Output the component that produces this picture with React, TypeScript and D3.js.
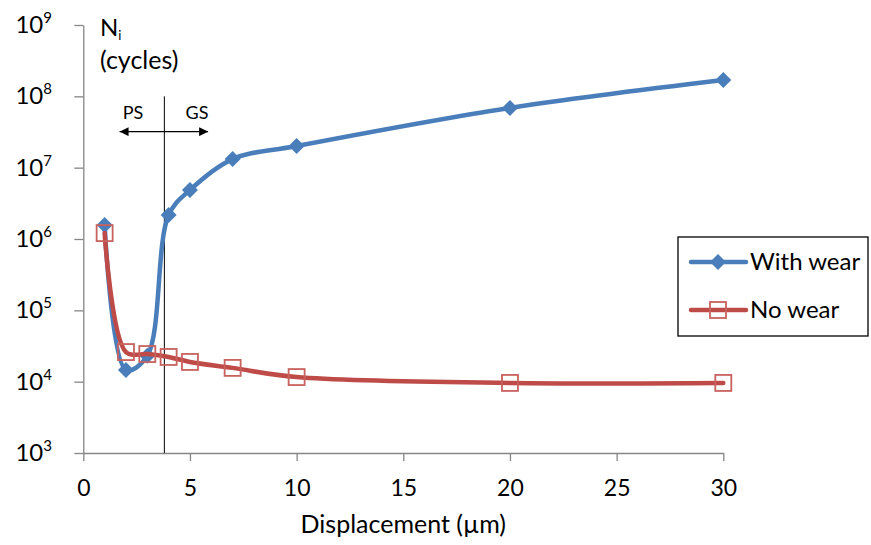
import React, { useRef, useEffect } from "react";
import * as d3 from "d3";

// displacement (µm) and cycles to crack initiation
const displacement = [1, 2, 3, 4, 5, 7, 10, 20, 30];
const withWear = [1.57e6, 1.46e4, 2.3e4, 2.17e6, 4.86e6, 1.32e7, 2.01e7, 6.87e7, 1.69e8];
const noWear = [1.21e6, 2.6e4, 2.44e4, 2.22e4, 1.89e4, 1.56e4, 1.16e4, 9.6e3, 9.6e3];
const xTicks = [0, 5, 10, 15, 20, 25, 30];
const yExponents = [3, 4, 5, 6, 7, 8, 9];
const seriesNames = ["With wear", "No wear"];

// PS / GS boundary annotation
const boundaryX = 3.8;
const boundaryTop = 1e8;
const arrowFrom = 1.7;
const arrowTo = 5.85;
const arrowLevel = 3.2e7;

const FONT = "Lato, Carlito, Calibri, 'Open Sans', sans-serif";
const BLUE = "#4a7ebb";
const RED = "#be4b48";
const AXIS = "#868686";

export default function App() {
  const ref = useRef<SVGSVGElement>(null);
  const width = 871;
  const height = 545;

  useEffect(() => {
    const svg = d3.select(ref.current);
    svg.selectAll("*").remove();

    const x = d3.scaleLinear().domain([0, 30]).range([83.3, 723.3]);
    const y = d3.scaleLog().domain([1e3, 1e9]).range([453, 25]);

    const defs = svg.append("defs");
    defs
      .append("marker")
      .attr("id", "arrowhead")
      .attr("viewBox", "0 0 10 10")
      .attr("refX", 10)
      .attr("refY", 5)
      .attr("markerWidth", 9)
      .attr("markerHeight", 9)
      .attr("markerUnits", "userSpaceOnUse")
      .attr("orient", "auto-start-reverse")
      .append("path")
      .attr("d", "M0,0L10,5L0,10Z")
      .attr("fill", "#000");

    // y axis
    const yAxis = svg
      .append("g")
      .attr("transform", "translate(" + x(0) + ",0)")
      .call(
        d3
          .axisLeft(y)
          .tickValues(yExponents.map(e => Math.pow(10, e)))
          .tickFormat(() => "")
          .tickSize(9)
          .tickSizeOuter(0)
      );
    yAxis.select(".domain").attr("stroke", AXIS).attr("stroke-width", 1.3);
    yAxis.selectAll(".tick line").attr("stroke", AXIS).attr("stroke-width", 1.3);

    const yLab = svg
      .append("g")
      .selectAll("text")
      .data(yExponents)
      .enter()
      .append("text")
      .attr("x", 52)
      .attr("y", e => y(Math.pow(10, e)) + 8)
      .attr("text-anchor", "end")
      .style("font-family", FONT)
      .style("font-size", "24px")
      .attr("fill", "#000");
    yLab.append("tspan").text("10");
    yLab
      .append("tspan")
      .attr("dy", -10)
      .style("font-size", "15px")
      .text(e => String(e));

    // x axis
    const xAxis = svg
      .append("g")
      .attr("transform", "translate(0," + y(1e3) + ")")
      .call(d3.axisBottom(x).tickValues(xTicks).tickSize(8).tickSizeOuter(0).tickPadding(19));
    xAxis.select(".domain").attr("stroke", AXIS).attr("stroke-width", 1.3);
    xAxis.selectAll(".tick line").attr("stroke", AXIS).attr("stroke-width", 1.3);
    xAxis
      .selectAll(".tick text")
      .style("font-family", FONT)
      .style("font-size", "23px")
      .attr("fill", "#000");

    svg
      .append("text")
      .attr("x", (x(0) + x(30)) / 2)
      .attr("y", 533)
      .attr("text-anchor", "middle")
      .style("font-family", FONT)
      .style("font-size", "25px")
      .text("Displacement (µm)");

    // y title
    const nTitle = svg
      .append("text")
      .attr("x", 100)
      .attr("y", 36)
      .style("font-family", FONT)
      .style("font-size", "24px");
    nTitle.append("tspan").text("N");
    nTitle.append("tspan").attr("dy", 4).style("font-size", "13px").text("i");
    svg
      .append("text")
      .attr("x", 100)
      .attr("y", 69)
      .style("font-family", FONT)
      .style("font-size", "25px")
      .text("(cycles)");

    // PS / GS annotation
    svg
      .append("line")
      .attr("x1", x(boundaryX))
      .attr("x2", x(boundaryX))
      .attr("y1", y(boundaryTop))
      .attr("y2", y(1e3))
      .attr("stroke", "#000")
      .attr("stroke-width", 1);
    svg
      .append("line")
      .attr("x1", x(arrowFrom))
      .attr("x2", x(arrowTo))
      .attr("y1", y(arrowLevel))
      .attr("y2", y(arrowLevel))
      .attr("stroke", "#000")
      .attr("stroke-width", 1.3)
      .attr("marker-start", "url(#arrowhead)")
      .attr("marker-end", "url(#arrowhead)");
    svg
      .append("text")
      .attr("x", 133)
      .attr("y", 119)
      .attr("text-anchor", "middle")
      .style("font-family", FONT)
      .style("font-size", "18px")
      .text("PS");
    svg
      .append("text")
      .attr("x", 197)
      .attr("y", 119)
      .attr("text-anchor", "middle")
      .style("font-family", FONT)
      .style("font-size", "18px")
      .text("GS");

    const line = d3
      .line<[number, number]>()
      .x(d => x(d[0]))
      .y(d => y(d[1]))
      .curve(d3.curveCatmullRom.alpha(0.5));

    const wearPts: [number, number][] = displacement.map((d, i) => [d, withWear[i]]);
    const noWearPts: [number, number][] = displacement.map((d, i) => [d, noWear[i]]);

    const diamond = "M0,-8L8,0L0,8L-8,0Z";

    // with wear
    svg
      .append("path")
      .attr("d", line(wearPts))
      .attr("fill", "none")
      .attr("stroke", BLUE)
      .attr("stroke-width", 4.5)
      .attr("stroke-linecap", "round");
    svg
      .append("g")
      .selectAll("path")
      .data(wearPts)
      .enter()
      .append("path")
      .attr("d", diamond)
      .attr("transform", d => "translate(" + x(d[0]) + "," + y(d[1]) + ")")
      .attr("fill", BLUE);

    // no wear
    svg
      .append("path")
      .attr("d", line(noWearPts))
      .attr("fill", "none")
      .attr("stroke", RED)
      .attr("stroke-width", 4.5)
      .attr("stroke-linecap", "round");
    svg
      .append("g")
      .selectAll("rect")
      .data(noWearPts)
      .enter()
      .append("rect")
      .attr("x", d => x(d[0]) - 8)
      .attr("y", d => y(d[1]) - 8)
      .attr("width", 16)
      .attr("height", 16)
      .attr("fill", "none")
      .attr("stroke", "#c8625f")
      .attr("stroke-width", 1.8);

    // legend
    const lg = svg.append("g").attr("transform", "translate(678,237)");
    lg.append("rect")
      .attr("width", 190)
      .attr("height", 99)
      .attr("fill", "#fff")
      .attr("stroke", "#000")
      .attr("stroke-width", 1.3);
    const rows = lg
      .selectAll("g.row")
      .data(seriesNames)
      .enter()
      .append("g")
      .attr("class", "row")
      .attr("transform", (d, i) => "translate(0," + (25 + i * 48) + ")");
    rows
      .append("line")
      .attr("x1", 13)
      .attr("x2", 68)
      .attr("stroke", (d, i) => (i === 0 ? BLUE : RED))
      .attr("stroke-width", 4.5)
      .attr("stroke-linecap", "round");
    rows
      .filter((d, i) => i === 0)
      .append("path")
      .attr("d", diamond)
      .attr("transform", "translate(40,0)")
      .attr("fill", BLUE);
    rows
      .filter((d, i) => i === 1)
      .append("rect")
      .attr("x", 32)
      .attr("y", -8)
      .attr("width", 16)
      .attr("height", 16)
      .attr("fill", "none")
      .attr("stroke", "#c8625f")
      .attr("stroke-width", 1.8);
    rows
      .append("text")
      .attr("x", 72)
      .attr("y", 8)
      .style("font-family", FONT)
      .style("font-size", "24px")
      .text(d => d);
  }, []);

  return (
    <svg
      ref={ref}
      width={width}
      height={height}
      style={{ position: "absolute", left: 0, top: 0, background: "#fff" }}
    />
  );
}
